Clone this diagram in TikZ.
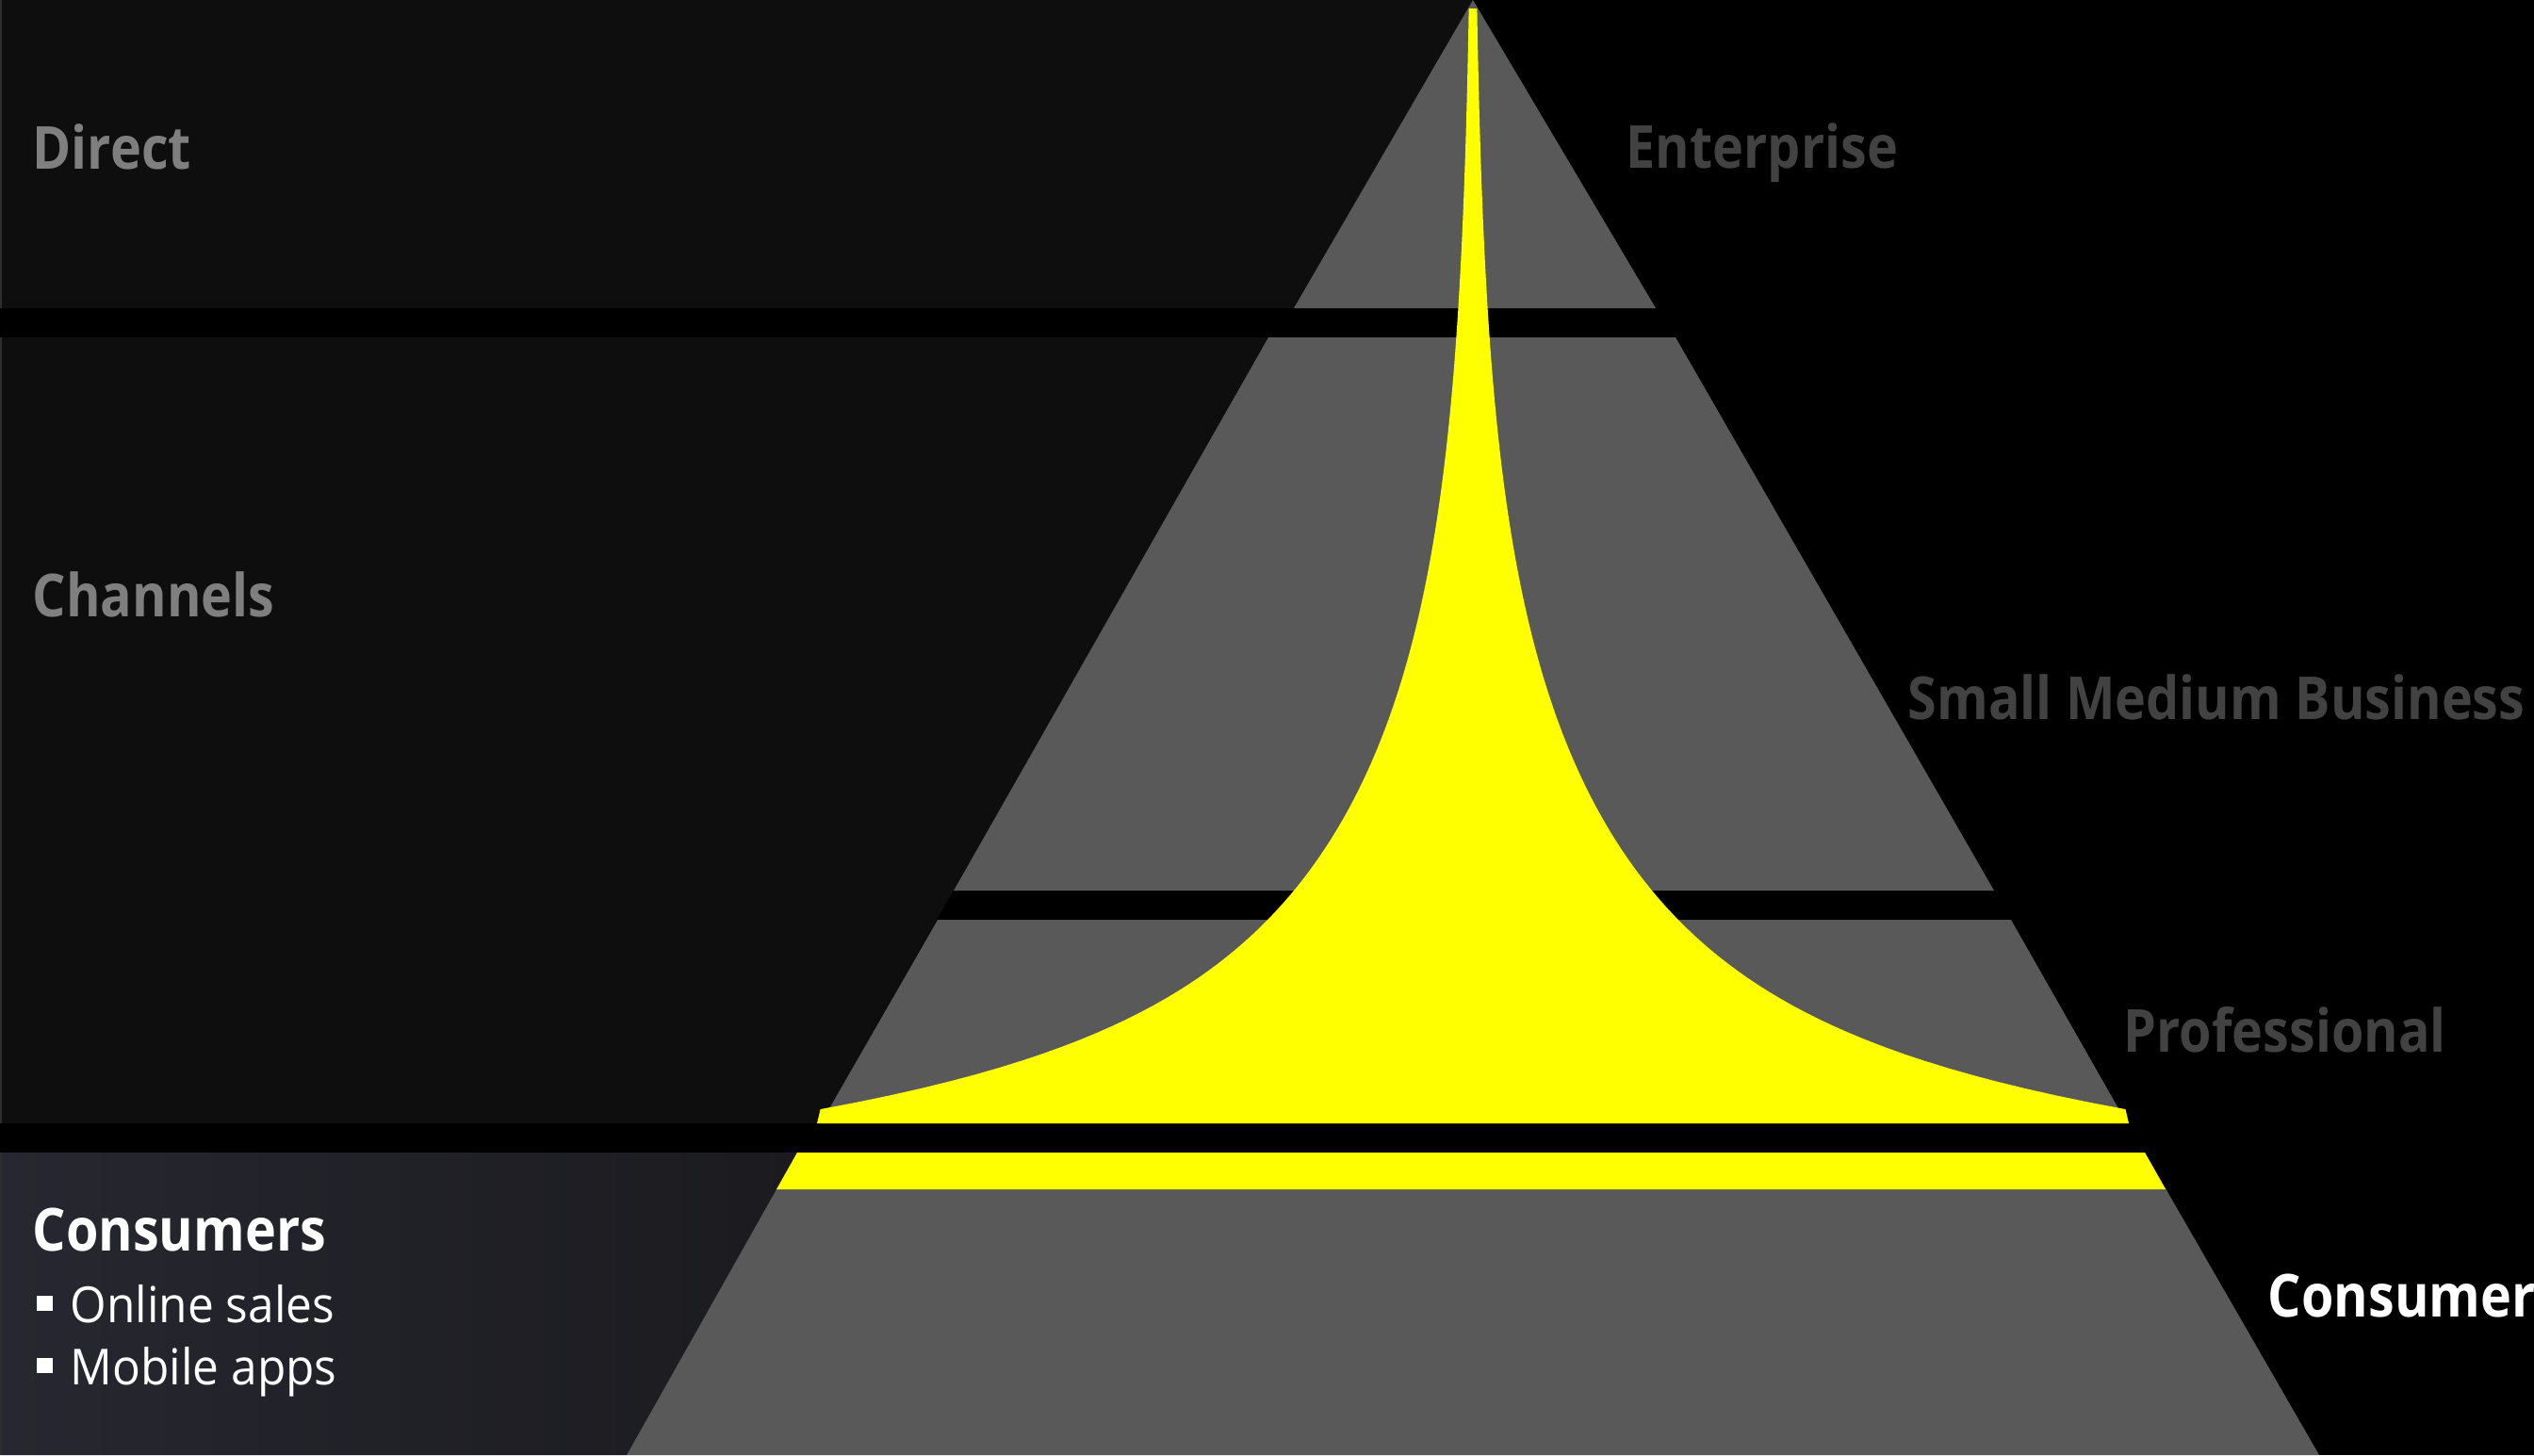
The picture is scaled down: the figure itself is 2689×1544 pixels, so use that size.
\documentclass[tikz,border=0pt]{standalone}
\usepackage{fontspec}
\setmainfont{Open Sans}
\newfontfamily\labelfont{Open Sans}[FakeStretch=0.885]
\newfontfamily\itemfont{Open Sans}[FakeStretch=0.94]
\usepackage{tikz}
\usetikzlibrary{positioning}
\definecolor{panelgray}{HTML}{0E0E0E}
\definecolor{edgegray}{HTML}{2E2E2E}
\definecolor{tiergray}{HTML}{595959}
\definecolor{spireyellow}{HTML}{FFFF00}
\definecolor{channelgray}{HTML}{7F7F7F}
\definecolor{segmentgray}{HTML}{424242}
\definecolor{consleft}{HTML}{262730}
\definecolor{consright}{HTML}{1B1B1F}
\tikzstyle{panel} = [fill=panelgray]
\tikzstyle{tier} = [fill=tiergray]
\tikzstyle{spire} = [fill=spireyellow]
\tikzstyle{channel} = [anchor=base west, inner sep=0pt, text=channelgray, font=\labelfont\bfseries\fontsize{17.9}{21}\selectfont]
\tikzstyle{segment} = [channel, text=segmentgray]
\tikzstyle{headline} = [channel, text=white]
\tikzstyle{item} = [anchor=base west, inner sep=0pt, text=white, font=\itemfont\fontsize{15}{18}\selectfont]

\begin{document}
\begin{tikzpicture}[x=0.01cm, y=-0.01cm,
    declare function={hw(\t)=14*exp(0.004*(\t-300))+226*exp(0.016*(\t-1177));}]
    \useasboundingbox (0,0) rectangle (2689,1544);
    \fill[black] (0,0) rectangle (2689,1544);

    % channel panels on the left
    \fill[panel] (0,0) rectangle (1563,327);
    \fill[panel] (0,358) -- (1346,358) -- (871,1192) -- (0,1192) -- cycle;
    \shade[left color=consleft, right color=consright] (0,1223) -- (846,1223) -- (665,1544) -- (0,1544) -- cycle;
    \draw[draw=edgegray, line width=0.02cm] (1,0) -- (1,327) (1,358) -- (1,1192) (1,1223) -- (1,1544);

    % pyramid tiers
    \fill[tier] (1563,0) -- (1757,327) -- (1373,327) -- cycle;
    \fill[tier] (1346,358) -- (1778,358) -- (2116,945) -- (1012,945) -- cycle;
    \fill[tier] (995,976) -- (2134,976) -- (2257,1192) -- (871,1192) -- cycle;
    \fill[tier] (846,1223) -- (2276,1223) -- (2461,1544) -- (665,1544) -- cycle;

    % yellow spire and band
    \fill[spire] (867,1192)
        -- plot[domain=0:1168, samples=160] ({1563-hw(1177-\x)}, {1177-\x})
        -- plot[domain=9:1177, samples=160] ({1563+hw(\x)}, \x)
        -- (2259,1192) -- cycle;
    \fill[spire] (846,1223) -- (2276,1223) -- (2298,1262) -- (824,1262) -- cycle;

    % labels
    \node (direct) [channel] at (34,179) {Direct};
    \node (channels) [channel] at (34,654) {Channels};
    \node (consumers) [headline] at (34,1327) {Consumers};
    \node (online) [item] at (38,1403) {\rule[0.12cm]{0.17cm}{0.16cm}\hspace{0.19cm}Online sales};
    \node (mobile) [item] at (38,1469) {\rule[0.12cm]{0.17cm}{0.16cm}\hspace{0.19cm}Mobile apps};

    \node (enterprise) [segment] at (1725,178) {Enterprise};
    \node (smb) [segment] at (2024,763) {Small Medium Business};
    \node (professional) [segment] at (2253,1116) {Professional};
    \node (consumer) [headline] at (2406,1397) {Consumer};
\end{tikzpicture}
\end{document}
